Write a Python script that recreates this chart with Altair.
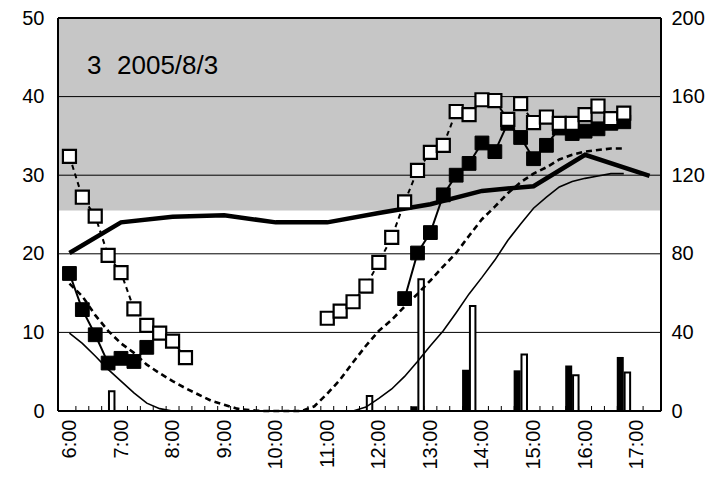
import altair as alt
import pandas as pd

FONT = "Liberation Sans"

# quarter-hour categories 6:00 .. 16:45
times = [f"{h}:{m:02d}" for h in range(6, 17) for m in (0, 15, 30, 45)]

thick_t = ["6:00", "7:00", "8:00", "9:00", "10:00", "11:00", "12:00", "13:00",
           "14:00", "15:00", "16:00", "17:15"]
thick_v = [20.1, 24.0, 24.7, 24.9, 24.0, 24.0, 25.2, 26.3, 28.0, 28.6, 32.6, 29.9]

thin_v = [9.9, 8.6, 7.0, 5.3, 3.8, 2.3, 1.0, 0.3, 0.0,
          0, 0, 0, 0, 0, 0, 0, 0, 0, 0, 0, 0, 0, 0,
          0.5, 1.6, 2.8, 4.4, 6.3, 8.3, 10.2, 12.5, 14.9, 17.0, 19.2, 21.7, 23.8,
          25.8, 27.2, 28.5, 29.2, 29.6, 29.9, 30.2, 30.2]

dash_v = [16.2, 14.6, 12.2, 10.2, 8.6, 7.4, 5.9, 4.8, 3.8, 2.9, 2.1, 1.3, 0.8, 0.3, 0.1,
          0, 0, 0, 0,
          0.6, 2.2, 4.0, 6.2, 8.3, 10.2, 11.6, 13.3, 14.9, 16.6, 18.4, 20.1, 22.3,
          24.4, 26.0, 27.7, 29.1, 30.2, 31.0, 32.0, 32.6, 33.0, 33.2, 33.4, 33.4]

open_v = [32.4, 27.2, 24.8, 19.8, 17.6, 13.0, 10.9, 9.9, 8.9, 6.8,
          None, None, None, None, None, None, None, None, None, None,
          11.8, 12.7, 13.9, 15.9, 18.9, 22.1, 26.6, 30.6, 32.9, 33.8, 38.1, 37.7,
          39.6, 39.5, 37.1, 39.1, 36.7, 37.4, 36.6, 36.6, 37.7, 38.8, 37.2, 37.9]

filled_v = [17.5, 12.9, 9.7, 6.1, 6.7, 6.3, 8.1,
            None, None, None, None, None, None, None, None, None, None,
            None, None, None, None, None, None, None, None, None,
            14.3, 20.1, 22.7, 27.5, 30.0, 31.5, 34.1, 33.0, 36.6, 34.8, 32.1, 33.8,
            36.0, 35.3, 35.6, 35.9, 36.6, 36.8]

bar_t = ["6:45", "11:45", "12:45", "13:45", "14:45", "15:45", "16:45"]
bar_black = [0, 0, 2.4, 21.0, 20.7, 23.2, 27.5]
bar_white = [10.0, 7.6, 67.0, 53.4, 28.7, 18.2, 19.6]

left_ticks = [0, 10, 20, 30, 40, 50]
right_ticks = [0, 40, 80, 120, 160, 200]
grid_v = [10, 20, 30, 40]
hour_labels = list(range(6, 18))
band_lo, band_hi = 25.5, 50
title_parts = ["3", "2005/8/3"]   # shown as "3  2005/8/3"


def hrs(t):
    h, m = t.split(":")
    return int(h) + int(m) / 60


X0, X1 = 5.875, 17.375
W, H = 603, 393

tick_pos = [X0 + 0.25 * k for k in range(1, 46)]

qt = [hrs(t) for t in times]


def segs(vals):
    rows, seg, prev = [], 0, False
    for t, v in zip(qt, vals):
        if v is None:
            if prev:
                seg += 1
            prev = False
            continue
        rows.append({"t": t, "v": v, "seg": seg})
        prev = True
    return pd.DataFrame(rows)


df_thick = pd.DataFrame({"t": [hrs(t) for t in thick_t], "v": thick_v})
df_thin = pd.DataFrame({"t": qt, "v": thin_v})
df_dash = pd.DataFrame({"t": qt, "v": dash_v})
df_open = segs(open_v)
df_filled = segs(filled_v)
df_bars = pd.DataFrame({"t": [hrs(t) for t in bar_t], "b": bar_black, "w": bar_white})
df_band = pd.DataFrame({"lo": [band_lo], "hi": [band_hi]})
df_grid = pd.DataFrame({"g": grid_v})
df_ticks = pd.DataFrame({"t": tick_pos})

xscale = alt.Scale(domain=[X0, X1], nice=False, zero=False)
xaxis = alt.Axis(values=hour_labels, labelExpr="datum.value + ':00'", labelAngle=270,
                 labelPadding=8, ticks=False, domain=False, grid=False, title=None,
                 labelFont=FONT, labelFontSize=20, labelColor="black")
X = alt.X("t:Q", scale=xscale, axis=xaxis)

lscale = alt.Scale(domain=[0, 50], nice=False, zero=True)
rscale = alt.Scale(domain=[0, 200], nice=False, zero=True)
laxis = alt.Axis(orient="left", values=left_ticks, ticks=False, domain=False,
                 grid=False, title=None, labelPadding=14, labelFont=FONT,
                 labelFontSize=20, labelColor="black")
raxis = alt.Axis(orient="right", values=right_ticks, ticks=False, domain=False,
                 grid=False, title=None, labelPadding=10, labelFont=FONT,
                 labelFontSize=20, labelColor="black")

# ---- layer A: background band, grid, left axis, title
band = alt.Chart(df_band).mark_rect(color="#c6c6c6").encode(
    x=alt.value(0), x2=alt.value(W),
    y=alt.Y("lo:Q", scale=lscale, axis=laxis), y2="hi:Q")
grid = alt.Chart(df_grid).mark_rule(color="black", strokeWidth=1).encode(
    x=alt.value(0), x2=alt.value(W), y=alt.Y("g:Q", scale=lscale, axis=laxis))
ticks = alt.Chart(df_ticks).mark_rule(color="black", strokeWidth=1).encode(
    x=X, y=alt.value(H), y2=alt.value(H - 5))
title1 = alt.Chart(pd.DataFrame({"s": [title_parts[0]]})).mark_text(
    align="left", baseline="alphabetic", font=FONT, fontSize=26, color="black"
).encode(text="s:N", x=alt.value(29), y=alt.value(56))
title2 = alt.Chart(pd.DataFrame({"s": [title_parts[1]]})).mark_text(
    align="left", baseline="alphabetic", font=FONT, fontSize=26, color="black"
).encode(text="s:N", x=alt.value(59), y=alt.value(56))
layerA = alt.layer(band, grid, ticks, title1, title2)

# ---- layer B: bars on right axis
bars_b = alt.Chart(df_bars).mark_bar(color="black", width=7, xOffset=-3.5).encode(
    x=X, y=alt.Y("b:Q", scale=rscale, axis=raxis))
bars_w = alt.Chart(df_bars).mark_bar(fill="white", stroke="black", strokeWidth=2,
                                     width=5.5, xOffset=3.6).encode(
    x=X, y=alt.Y("w:Q", scale=rscale, axis=raxis))
layerB = alt.layer(bars_b, bars_w)

# ---- layer C: lines and squares (left scale, no axis)
Yc = lambda f: alt.Y(f, scale=lscale, axis=None)
thick = alt.Chart(df_thick).mark_line(color="black", strokeWidth=4.5).encode(x=X, y=Yc("v:Q"))
thin = alt.Chart(df_thin).mark_line(color="black", strokeWidth=1.6).encode(x=X, y=Yc("v:Q"))
dash = alt.Chart(df_dash).mark_line(color="black", strokeWidth=2.6, strokeDash=[6, 4]).encode(
    x=X, y=Yc("v:Q"))
filled_line = alt.Chart(df_filled).mark_line(color="black", strokeWidth=2).encode(
    x=X, y=Yc("v:Q"), detail="seg:N")
filled_pts = alt.Chart(df_filled).mark_point(shape="square", filled=True, fill="black",
                                             stroke="black", strokeWidth=1, size=190,
                                             opacity=1).encode(x=X, y=Yc("v:Q"))
open_line = alt.Chart(df_open).mark_line(color="black", strokeWidth=2, strokeDash=[5, 4]).encode(
    x=X, y=Yc("v:Q"), detail="seg:N")
open_pts = alt.Chart(df_open).mark_point(shape="square", filled=True, fill="white",
                                         stroke="black", strokeWidth=2.2, size=170,
                                         opacity=1).encode(x=X, y=Yc("v:Q"))
fr = dict(color="black", strokeWidth=2)
frame_l = alt.Chart().mark_rule(**fr).encode(x=alt.value(0), y=alt.value(0), y2=alt.value(H))
frame_r = alt.Chart().mark_rule(**fr).encode(x=alt.value(W), y=alt.value(0), y2=alt.value(H))
frame_t = alt.Chart().mark_rule(**fr).encode(x=alt.value(0), x2=alt.value(W), y=alt.value(0))
frame_b = alt.Chart().mark_rule(**fr).encode(x=alt.value(0), x2=alt.value(W), y=alt.value(H))
layerC = alt.layer(thick, thin, dash, filled_line, filled_pts, open_line, open_pts,
                   frame_l, frame_r, frame_t, frame_b)

chart = alt.layer(layerA, layerB, layerC).resolve_scale(y="independent").properties(
    width=W, height=H,
    autosize=alt.AutoSizeParams(type="none"),
    padding={"left": 50, "top": 10, "right": 50, "bottom": 60},
).configure_view(stroke=None).configure(background="white")

chart.save("out.html", embed_options={"renderer": "svg", "actions": False})
